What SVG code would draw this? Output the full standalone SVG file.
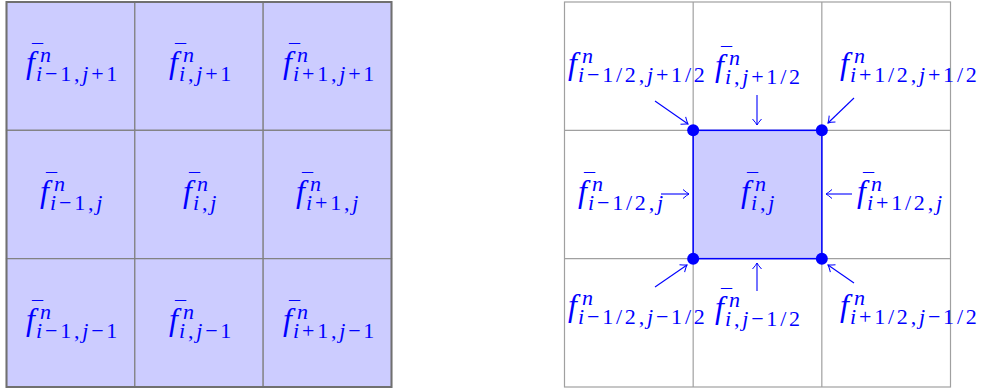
<svg xmlns="http://www.w3.org/2000/svg" width="981" height="389" viewBox="0 0 981 389">
<style>
.cell{fill:#ccccff;stroke:#808080;stroke-width:1.2}
.cellw{fill:none;stroke:#a0a0a0;stroke-width:1.2}
.m{font-family:"Liberation Serif",serif;font-style:italic;font-size:32px;fill:#0000ff}
.bar{font-style:normal;font-size:22px}
.s{font-size:22px;font-style:normal;letter-spacing:2.8px}
.sup{font-size:22px;font-style:italic}
.it{font-style:italic}
.arr{stroke:#0000ff;stroke-width:1.1;fill:none;marker-end:url(#to)}
.dot{fill:#0000ff}
</style>
<defs>
<marker id="to" viewBox="-8 -6 10 12" markerWidth="10" markerHeight="12" refX="0" refY="0" orient="auto" markerUnits="userSpaceOnUse">
<path d="M-6,-4.5 Q-2,-1 0,0 Q-2,1 -6,4.5" stroke="#0000ff" stroke-width="1" fill="none"/>
</marker>
</defs>
<rect width="981" height="389" fill="#ffffff"/>

<!-- Left grid -->
<g id="left-grid">
<g id="L11"><rect class="cell" x="6.5" y="2" width="128.33" height="128.33"/>
<text class="m" x="26" y="73">f<tspan class="bar" x="32" y="59">¯</tspan><tspan class="sup" x="40" y="62">n</tspan><tspan class="s" x="36" y="81"><tspan class="it">i</tspan>−1,<tspan class="it">j</tspan>+1</tspan></text></g>
<g id="L12"><rect class="cell" x="134.83" y="2" width="128.33" height="128.33"/>
<text class="m" x="169" y="73">f<tspan class="bar" x="175" y="59">¯</tspan><tspan class="sup" x="183" y="62">n</tspan><tspan class="s" x="179" y="81"><tspan class="it">i</tspan>,<tspan class="it">j</tspan>+1</tspan></text></g>
<g id="L13"><rect class="cell" x="263.17" y="2" width="128.33" height="128.33"/>
<text class="m" x="283" y="73">f<tspan class="bar" x="289" y="59">¯</tspan><tspan class="sup" x="297" y="62">n</tspan><tspan class="s" x="293" y="81"><tspan class="it">i</tspan>+1,<tspan class="it">j</tspan>+1</tspan></text></g>

<g id="L21"><rect class="cell" x="6.5" y="130.33" width="128.33" height="128.33"/>
<text class="m" x="40" y="202">f<tspan class="bar" x="46" y="188">¯</tspan><tspan class="sup" x="54" y="191">n</tspan><tspan class="s" x="50" y="210"><tspan class="it">i</tspan>−1,<tspan class="it">j</tspan></tspan></text></g>
<g id="L22"><rect class="cell" x="134.83" y="130.33" width="128.33" height="128.33"/>
<text class="m" x="183" y="202">f<tspan class="bar" x="189" y="188">¯</tspan><tspan class="sup" x="197" y="191">n</tspan><tspan class="s" x="193" y="210"><tspan class="it">i</tspan>,<tspan class="it">j</tspan></tspan></text></g>
<g id="L23"><rect class="cell" x="263.17" y="130.33" width="128.33" height="128.33"/>
<text class="m" x="296" y="202">f<tspan class="bar" x="302" y="188">¯</tspan><tspan class="sup" x="310" y="191">n</tspan><tspan class="s" x="306" y="210"><tspan class="it">i</tspan>+1,<tspan class="it">j</tspan></tspan></text></g>

<g id="L31"><rect class="cell" x="6.5" y="258.67" width="128.33" height="128.33"/>
<text class="m" x="26" y="330">f<tspan class="bar" x="32" y="316">¯</tspan><tspan class="sup" x="40" y="319">n</tspan><tspan class="s" x="36" y="338"><tspan class="it">i</tspan>−1,<tspan class="it">j</tspan>−1</tspan></text></g>
<g id="L32"><rect class="cell" x="134.83" y="258.67" width="128.33" height="128.33"/>
<text class="m" x="169" y="330">f<tspan class="bar" x="175" y="316">¯</tspan><tspan class="sup" x="183" y="319">n</tspan><tspan class="s" x="179" y="338"><tspan class="it">i</tspan>,<tspan class="it">j</tspan>−1</tspan></text></g>
<g id="L33"><rect class="cell" x="263.17" y="258.67" width="128.33" height="128.33"/>
<text class="m" x="283" y="330">f<tspan class="bar" x="289" y="316">¯</tspan><tspan class="sup" x="297" y="319">n</tspan><tspan class="s" x="293" y="338"><tspan class="it">i</tspan>+1,<tspan class="it">j</tspan>−1</tspan></text></g>
<rect x="6.5" y="2" width="385" height="385" fill="none" stroke="#707070" stroke-width="2"/>
</g>

<!-- Right grid -->
<g id="right-grid">
<rect class="cellw" x="564.5" y="2" width="386" height="385"/>
<line class="cellw" x1="693.17" y1="2" x2="693.17" y2="387"/>
<line class="cellw" x1="821.83" y1="2" x2="821.83" y2="387"/>
<line class="cellw" x1="564.5" y1="130.33" x2="950.5" y2="130.33"/>
<line class="cellw" x1="564.5" y1="258.67" x2="950.5" y2="258.67"/>
</g>

<g id="cell-ij">
<rect x="693.17" y="130.33" width="128.67" height="128.33" fill="#ccccff" stroke="#0000ff" stroke-width="1.5"/>
<text class="m" x="741" y="202">f<tspan class="bar" x="747" y="188">¯</tspan><tspan class="sup" x="755" y="191">n</tspan><tspan class="s" x="751" y="210"><tspan class="it">i</tspan>,<tspan class="it">j</tspan></tspan></text>
</g>

<g id="vertices">
<circle class="dot" cx="693.17" cy="130.33" r="6"/>
<circle class="dot" cx="821.83" cy="130.33" r="6"/>
<circle class="dot" cx="693.17" cy="258.67" r="6"/>
<circle class="dot" cx="821.83" cy="258.67" r="6"/>
</g>

<g id="label-TL">
<text class="m" x="568" y="74">f<tspan class="sup" x="582" y="63">n</tspan><tspan class="s" x="578" y="82"><tspan class="it">i</tspan>−1/2,<tspan class="it">j</tspan>+1/2</tspan></text></g>
<g id="label-TC">
<text class="m" x="715" y="76">f<tspan class="bar" x="721" y="62">¯</tspan><tspan class="sup" x="729" y="65">n</tspan><tspan class="s" x="725" y="84"><tspan class="it">i</tspan>,<tspan class="it">j</tspan>+1/2</tspan></text></g>
<g id="label-TR">
<text class="m" x="840" y="74">f<tspan class="sup" x="854" y="63">n</tspan><tspan class="s" x="850" y="82"><tspan class="it">i</tspan>+1/2,<tspan class="it">j</tspan>+1/2</tspan></text></g>
<g id="label-ML">
<text class="m" x="578" y="202">f<tspan class="bar" x="584" y="188">¯</tspan><tspan class="sup" x="592" y="191">n</tspan><tspan class="s" x="588" y="210"><tspan class="it">i</tspan>−1/2,<tspan class="it">j</tspan></tspan></text></g>
<g id="label-MR">
<text class="m" x="857" y="202">f<tspan class="bar" x="863" y="188">¯</tspan><tspan class="sup" x="871" y="191">n</tspan><tspan class="s" x="867" y="210"><tspan class="it">i</tspan>+1/2,<tspan class="it">j</tspan></tspan></text></g>
<g id="label-BL">
<text class="m" x="568" y="316">f<tspan class="sup" x="582" y="305">n</tspan><tspan class="s" x="578" y="324"><tspan class="it">i</tspan>−1/2,<tspan class="it">j</tspan>−1/2</tspan></text></g>
<g id="label-BC">
<text class="m" x="715" y="318">f<tspan class="bar" x="721" y="304">¯</tspan><tspan class="sup" x="729" y="307">n</tspan><tspan class="s" x="725" y="326"><tspan class="it">i</tspan>,<tspan class="it">j</tspan>−1/2</tspan></text></g>
<g id="label-BR">
<text class="m" x="840" y="316">f<tspan class="sup" x="854" y="305">n</tspan><tspan class="s" x="850" y="324"><tspan class="it">i</tspan>+1/2,<tspan class="it">j</tspan>−1/2</tspan></text></g>

<g id="connectors">
<line class="arr" x1="655" y1="101" x2="688" y2="124"/>
<line class="arr" x1="757" y1="95" x2="757" y2="125"/>
<line class="arr" x1="854" y1="98" x2="828" y2="123"/>
<line class="arr" x1="661" y1="194" x2="689" y2="194"/>
<line class="arr" x1="852" y1="194" x2="826" y2="194"/>
<line class="arr" x1="655" y1="287" x2="687" y2="265"/>
<line class="arr" x1="757" y1="291" x2="757" y2="263"/>
<line class="arr" x1="854" y1="283" x2="828" y2="265"/>
</g>
</svg>
